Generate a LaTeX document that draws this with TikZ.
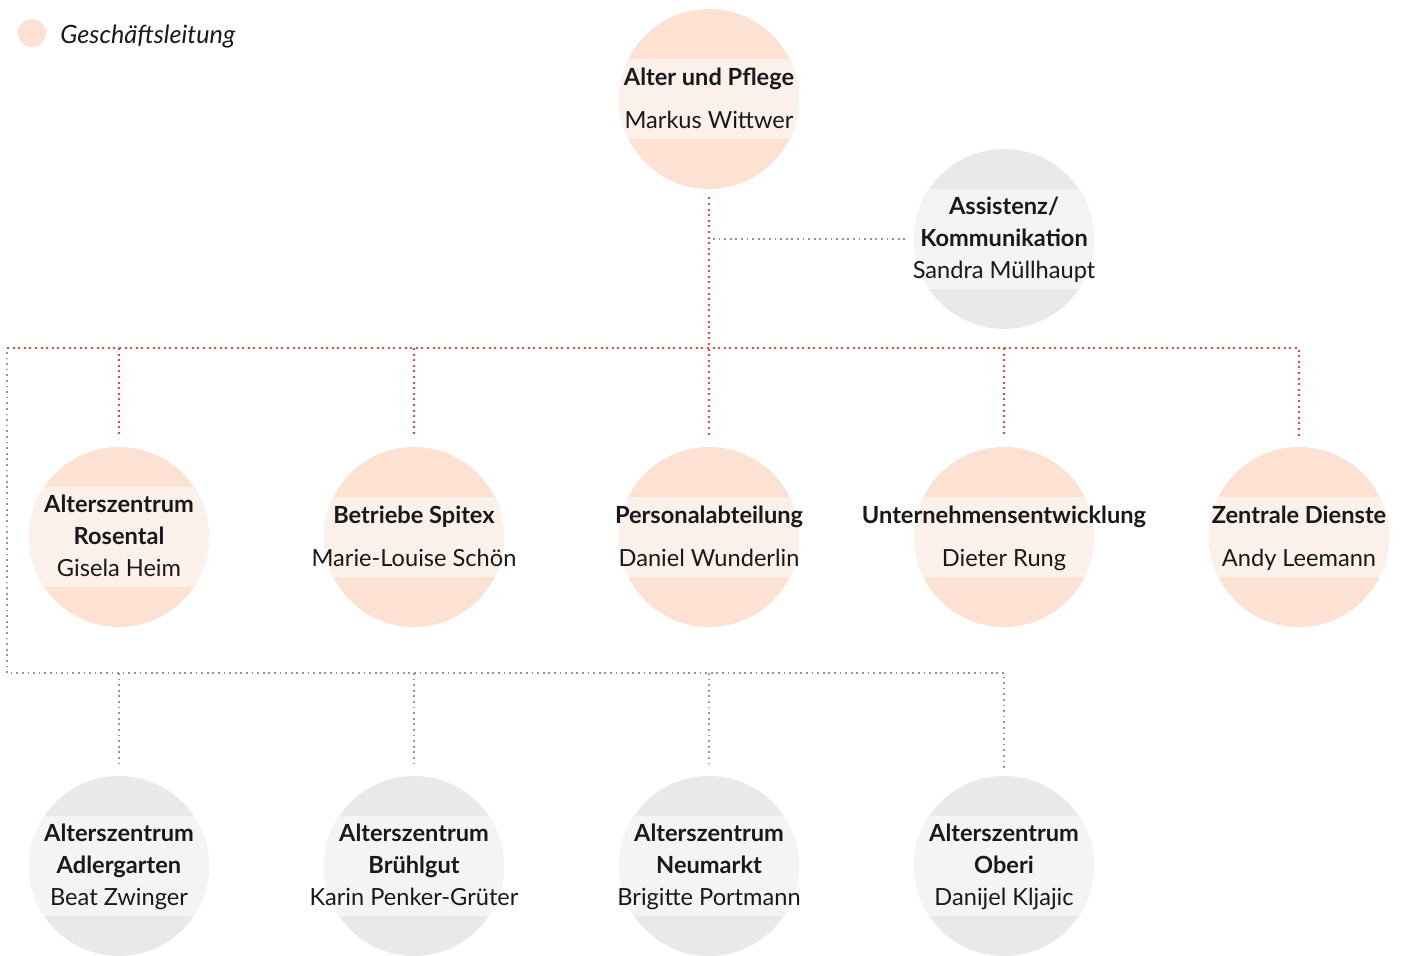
\documentclass[tikz,border=0pt]{standalone}
\usepackage{fontspec}
\setmainfont{Lato}
\definecolor{peach}{RGB}{253,225,211}
\definecolor{peachband}{RGB}{252,240,235}
\definecolor{grayunit}{RGB}{233,233,233}
\definecolor{grayband}{RGB}{244,244,244}
\definecolor{linered}{RGB}{232,72,62}
\definecolor{linegray}{RGB}{150,150,150}
\definecolor{ink}{RGB}{25,25,25}
\tikzset{
  unit/.style={circle, minimum size=90pt, inner sep=0pt, fill=peach,
    path picture={\fill[peachband] ([yshift=#1]path picture bounding box.west) rectangle ([yshift=-#1]path picture bounding box.east);}},
  grayunit/.style={unit=#1, fill=grayunit,
    path picture={\fill[grayband] ([yshift=#1]path picture bounding box.west) rectangle ([yshift=-#1]path picture bounding box.east);}},
  txt/.style={align=center, text=ink, inner sep=0pt, yshift=-2pt,
    font=\fontsize{11.8}{16}\selectfont,
    execute at begin node={\lineskiplimit=-20pt\relax\strut},
    execute at end node={\strut}},
  reddot/.style={linered, line width=1pt, dash pattern=on 1pt off 1.8pt},
  graydot/.style={linegray, line width=0.85pt, dash pattern=on 0.85pt off 1.95pt}
}
\begin{document}
\begin{tikzpicture}[x=0.5pt, y=-0.5pt]
\useasboundingbox (0,0) rectangle (1411,956);
% legend
\node[circle, fill=peach, minimum size=14pt, inner sep=0pt] (legdot) at (32,33) {};
\node[txt, anchor=west, font=\fontsize{12.6}{16}\selectfont\itshape] (legtxt) at (60,33) {Geschäftsleitung};
% units
\node[unit=20pt] (alter) at (709,99) {};
\node[txt] (alter-t) at (alter) {\textbf{Alter und Pflege}\\[5.5pt]Markus Wittwer};
\node[grayunit=25pt] (assist) at (1004,239) {};
\node[txt] (assist-t) at (assist) {\textbf{Assistenz/}\\\textbf{Kommunikation}\\Sandra Müllhaupt};
\node[unit=25pt] (rosental) at (119,537) {};
\node[txt] (rosental-t) at (rosental) {\textbf{Alterszentrum}\\\textbf{Rosental}\\Gisela Heim};
\node[unit=20pt] (spitex) at (414,537) {};
\node[txt] (spitex-t) at (spitex) {\textbf{Betriebe Spitex}\\[5.5pt]Marie-Louise Schön};
\node[unit=20pt] (personal) at (709,537) {};
\node[txt] (personal-t) at (personal) {\textbf{Personalabteilung}\\[5.5pt]Daniel Wunderlin};
\node[unit=20pt] (entw) at (1004,537) {};
\node[txt] (entw-t) at (entw) {\textbf{Unternehmensentwicklung}\\[5.5pt]Dieter Rung};
\node[unit=20pt] (zentrale) at (1299,537) {};
\node[txt] (zentrale-t) at (zentrale) {\textbf{Zentrale Dienste}\\[5.5pt]Andy Leemann};
\node[grayunit=25pt] (adler) at (119,866) {};
\node[txt] (adler-t) at (adler) {\textbf{Alterszentrum}\\\textbf{Adlergarten}\\Beat Zwinger};
\node[grayunit=25pt] (bruehl) at (414,866) {};
\node[txt] (bruehl-t) at (bruehl) {\textbf{Alterszentrum}\\\textbf{Brühlgut}\\Karin Penker-Grüter};
\node[grayunit=25pt] (neumarkt) at (709,866) {};
\node[txt] (neumarkt-t) at (neumarkt) {\textbf{Alterszentrum}\\\textbf{Neumarkt}\\Brigitte Portmann};
\node[grayunit=25pt] (oberi) at (1004,866) {};
\node[txt] (oberi-t) at (oberi) {\textbf{Alterszentrum}\\\textbf{Oberi}\\Danijel Kljajic};
% lines
\coordinate (busL) at (7,348);
\coordinate (busB) at (7,673);
\draw[graydot, shorten <=2pt, shorten >=2.5pt] (alter.south |- assist) -- (assist.west);
\draw[reddot, shorten <=4pt, shorten >=4.5pt] (alter.south) -- (personal.north);
\draw[reddot, shorten >=4.5pt] (busL) -| (zentrale.north);
\foreach \u in {rosental, spitex, entw}
  \draw[reddot, shorten >=4.5pt] (\u.north |- busL) -- (\u.north);
\draw[graydot, shorten <=2pt, shorten >=4pt] (busL) -- (busB) -| (oberi.north);
\foreach \u in {adler, bruehl, neumarkt}
  \draw[graydot, shorten >=4pt] (\u.north |- busB) -- (\u.north);
\end{tikzpicture}
\end{document}
